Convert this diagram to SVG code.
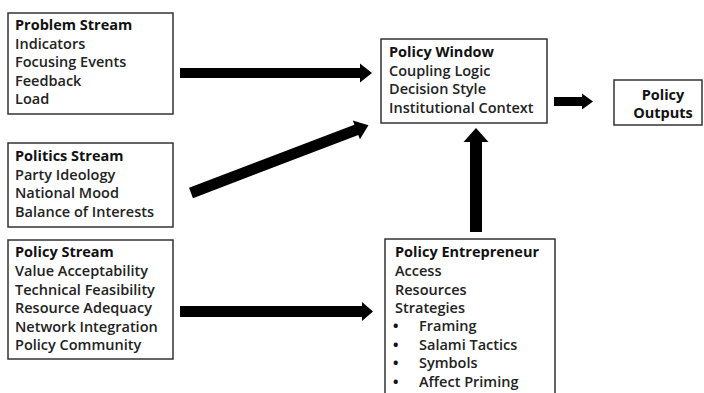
<svg xmlns="http://www.w3.org/2000/svg" width="704" height="393" viewBox="0 0 704 393">
<style>
.box{fill:#fff;stroke:#333;stroke-width:1.5}
text{font-family:"Open Sans","Liberation Sans",sans-serif;font-size:14.5px;font-weight:600;fill:#222}
.b{font-weight:bold;fill:#111}
.c{text-anchor:middle;font-weight:bold;fill:#111}
.arr{fill:#000}
</style>
<rect width="704" height="393" fill="#fff"/>
<g id="problem">
<rect class="box" x="8" y="13" width="165" height="101"/>
<text x="15" y="30" class="b">Problem Stream</text>
<text x="15" y="48.5">Indicators</text>
<text x="15" y="67">Focusing Events</text>
<text x="15" y="85.5">Feedback</text>
<text x="15" y="104">Load</text>
</g>
<g id="politics">
<rect class="box" x="8" y="143" width="165" height="84"/>
<text x="15" y="161" class="b">Politics Stream</text>
<text x="15" y="179.5">Party Ideology</text>
<text x="15" y="198">National Mood</text>
<text x="15" y="216.5">Balance of Interests</text>
</g>
<g id="policystream">
<rect class="box" x="8" y="240" width="165" height="119"/>
<text x="15" y="257" class="b">Policy Stream</text>
<text x="15" y="276">Value Acceptability</text>
<text x="15" y="294.5">Technical Feasibility</text>
<text x="15" y="313">Resource Adequacy</text>
<text x="15" y="331.5">Network Integration</text>
<text x="15" y="350">Policy Community</text>
</g>
<g id="window">
<rect class="box" x="381" y="39" width="166" height="84"/>
<text x="389" y="57" class="b">Policy Window</text>
<text x="389" y="75.5">Coupling Logic</text>
<text x="389" y="94">Decision Style</text>
<text x="389" y="112.5">Institutional Context</text>
</g>
<g id="outputs">
<rect class="box" x="614" y="80" width="88" height="45"/>
<text x="663" y="99.5" class="c">Policy</text>
<text x="663" y="118" class="c">Outputs</text>
</g>
<g id="entrepreneur">
<rect class="box" x="385" y="239" width="170" height="170"/>
<text x="395" y="257" class="b">Policy Entrepreneur</text>
<text x="395" y="276">Access</text>
<text x="395" y="294.5">Resources</text>
<text x="395" y="313">Strategies</text>
<text x="393" y="331" class="b">•</text><text x="419" y="331">Framing</text>
<text x="393" y="349.5" class="b">•</text><text x="419" y="349.5">Salami Tactics</text>
<text x="393" y="368" class="b">•</text><text x="419" y="368">Symbols</text>
<text x="393" y="386.5" class="b">•</text><text x="419" y="386.5">Affect Priming</text>
</g>
<g id="connectors">
<path class="arr" transform="translate(180,73)" d="M0,-5 H180 V-9.5 L192,0 L180,9.5 V5 H0 Z"/>
<path class="arr" transform="translate(191,193) rotate(-20.9)" d="M0,-5.5 H177 V-10 L190,0 L177,10 V5.5 H0 Z"/>
<path class="arr" transform="translate(180,311.5)" d="M0,-5.5 H182 V-9.5 L193,0 L182,9.5 V5.5 H0 Z"/>
<path class="arr" transform="translate(554,101.5)" d="M0,-4.5 H28 V-8 L39,0 L28,8 V4.5 H0 Z"/>
<path class="arr" transform="translate(476,232) rotate(-90)" d="M0,-6 H90 V-12.5 L104,0 L90,12.5 V6 H0 Z"/>
</g>
</svg>
